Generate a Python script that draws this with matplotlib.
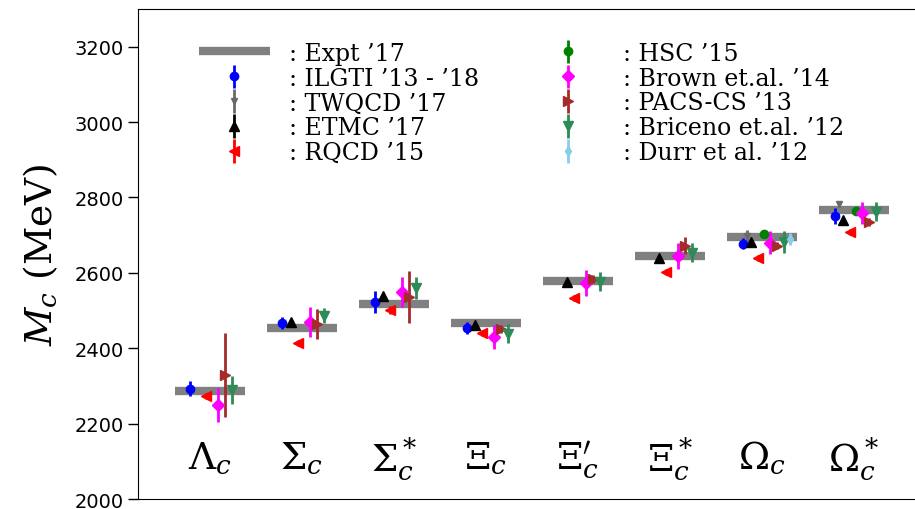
import matplotlib
matplotlib.use('Agg')

import matplotlib.pyplot as plt
import numpy as np

nan = np.nan

# Charmed baryon states (x categories)
states = [r'$\Lambda_c$', r'$\Sigma_c$', r'$\Sigma_c^*$', r'$\Xi_c$',
          r"$\Xi_c^{\prime}$", r'$\Xi_c^*$', r'$\Omega_c$', r'$\Omega_c^*$']
positions = np.arange(1, 9)

# Experimental masses (MeV)
expt = [2286, 2453, 2518, 2468, 2578, 2645, 2695, 2766]

# Lattice results: value, error
ilgti = [2292, 2467, 2523, 2454, nan, nan, 2677, 2751]
ilgti_err = [20, 15, 30, 15, nan, nan, 15, 22]
twqcd = [nan, nan, nan, nan, nan, nan, 2698, 2783]
twqcd_err = [nan, nan, nan, nan, nan, nan, 15, 8]
etmc = [nan, 2470, 2539, 2462, 2576, 2640, 2682, 2741]
etmc_err = [nan, 8, 8, 8, 8, 8, 8, 8]
rqcd = [2274, 2414, 2502, 2440, 2534, 2603, 2640, 2709]
rqcd_err = [8, 8, 10, 8, 8, 8, 8, 8]
hsc = [nan, nan, nan, nan, nan, nan, 2703, 2765]
hsc_err = [nan, nan, nan, nan, nan, nan, 8, 8]
brown = [2250, 2470, 2549, 2430, 2573, 2645, 2680, 2759]
brown_err = [45, 40, 40, 32, 35, 35, 30, 30]
pacs = [2329, 2465, 2536, 2451, 2584, 2672, 2672, 2735]
pacs_err = [112, 40, 70, 10, 10, 22, 10, 10]
briceno = [2290, 2486, 2560, 2438, 2576, 2653, 2682, 2762]
briceno_err = [37, 20, 30, 25, 25, 25, 30, 25]
durr = [nan, nan, nan, nan, nan, nan, 2690, nan]
durr_err = [nan, nan, nan, nan, nan, nan, 15, nan]

plt.rcParams['mathtext.fontset'] = 'dejavuserif'

fig = plt.figure(figsize=(9.15, 5.1), dpi=100)
ax = fig.add_axes([138 / 915, 10 / 510, (930 - 138) / 915, 490 / 510])

# experiment as thick grey bars
ax.hlines(expt, positions - 0.38, positions + 0.38, color='gray', lw=6,
          zorder=1, label=": Expt \u201917")

series = [
    (ilgti, ilgti_err, 'b', 'o', 6, -0.21, ": ILGTI \u201913 - \u201918"),
    (twqcd, twqcd_err, 'dimgray', 'v', 5, -0.16, ": TWQCD \u201917"),
    (etmc, etmc_err, 'k', '^', 7, -0.12, ": ETMC \u201917"),
    (rqcd, rqcd_err, 'r', '<', 7, -0.04, ": RQCD \u201915"),
    (hsc, hsc_err, 'g', 'o', 6, 0.02, ": HSC \u201915"),
    (brown, brown_err, 'magenta', 'D', 6, 0.09, ": Brown et.al. \u201914"),
    (pacs, pacs_err, 'brown', '>', 7, 0.16, ": PACS-CS \u201913"),
    (briceno, briceno_err, 'seagreen', 'v', 7, 0.24, ": Briceno et.al. \u201912"),
    (durr, durr_err, 'skyblue', 'd', 5, 0.30, ": Durr et al. \u201912"),
]

for vals, errs, col, mk, ms, off, lab in series:
    ax.errorbar(positions + off, vals, yerr=errs, fmt=mk, color=col,
                ms=ms, elinewidth=2, capsize=0, label=lab, zorder=3)

# state labels inside the axes
for x, s in zip(positions, states):
    ax.text(x, 2108, s, fontsize=27, ha='center', va='center')

ax.set_xlim(0.22, 1 + (930 - 210) / 92)
ax.set_ylim(2000, 3300)
ax.set_xticks([])
ax.set_yticks(np.arange(2000, 3201, 200))
ax.tick_params(axis='y', labelsize=14, length=7, width=1)
ax.set_ylabel(r'$M_c$ (MeV)', fontsize=27, family='DejaVu Serif', labelpad=10)

ax.legend(ncol=2, loc='upper left', bbox_to_anchor=(0.056, 0.967),
          frameon=False, prop={'family': 'DejaVu Serif', 'size': 17},
          handlelength=3.0, handletextpad=0.8, labelspacing=0.08,
          columnspacing=2.3, borderpad=0.2)

plt.savefig('out.png', dpi=100)
plt.close(fig)
